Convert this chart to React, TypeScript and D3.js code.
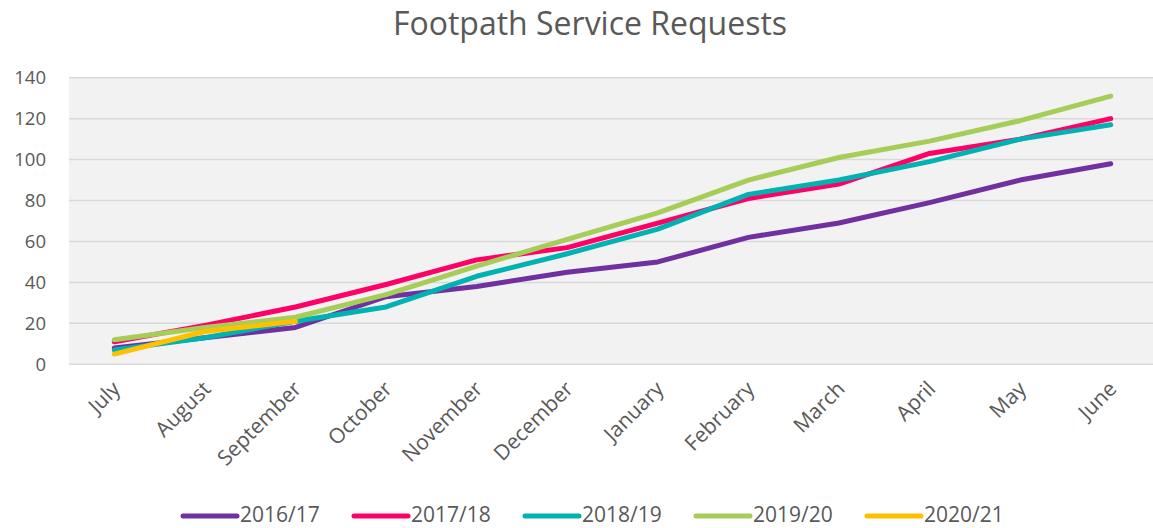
import * as d3 from "d3";
import React from "react";

const months = ["July", "August", "September", "October", "November", "December", "January", "February", "March", "April", "May", "June"];
const seriesNames = ["2016/17", "2017/18", "2018/19", "2019/20", "2020/21"];
const colors = ["#7030A0", "#FF0066", "#00B2B2", "#A6CD57", "#FFC000"];

const s1617 = [8, 13, 18, 33, 38, 45, 50, 62, 69, 79, 90, 98];
const s1718 = [11, 19, 28, 39, 51, 57, 69, 81, 88, 103, 110, 120];
const s1819 = [7, 13, 21, 28, 43, 54, 66, 83, 90, 99, 110, 117];
const s1920 = [12, 18, 23, 34, 48, 61, 74, 90, 101, 109, 119, 131];
const s2021 = [5, 16, 21];

const yTicks = [0, 20, 40, 60, 80, 100, 120, 140];

const W = 1153;
const H = 528;
const font = "'Open Sans', sans-serif";

export default function App() {
  const data = [s1617, s1718, s1819, s1920, s2021];
  const x = d3.scaleBand().domain(months).range([69, 1156]);
  const y = d3.scaleLinear().domain([0, 140]).range([364.3, 77.7]);
  const line = d3
    .line<number>()
    .x((d, i) => (x(months[i]) as number) + x.bandwidth() / 2)
    .y(d => y(d));

  return (
    <svg width={W} height={H} style={{ position: "absolute", left: 0, top: 0 }}>
      <rect width={W} height={H} fill="#fff" />
      <text x={590} y={35} textAnchor="middle" fontSize={32} fill="#595959" fontFamily={font}>
        Footpath Service Requests
      </text>
      <rect x={69} y={y(140)} width={W - 69} height={y(0) - y(140)} fill="#F2F2F2" />
      {yTicks.map(t => (
        <g key={t}>
          <line x1={69} x2={W} y1={y(t)} y2={y(t)} stroke="#D9D9D9" strokeWidth={1.5} />
          <text x={46} y={y(t)} dy="0.35em" textAnchor="end" fontSize={18.5} fill="#595959" fontFamily={font}>
            {t}
          </text>
        </g>
      ))}
      {months.map(m => {
        const cx = (x(m) as number) + x.bandwidth() / 2 + 2;
        return (
          <text
            key={m}
            transform={`translate(${cx},385) rotate(-45)`}
            textAnchor="end"
            fontSize={21}
            fill="#595959"
            fontFamily={font}
            dy="0.35em"
          >
            {m}
          </text>
        );
      })}
      {data.map((s, i) => (
        <path
          key={i}
          d={line(s) || ""}
          fill="none"
          stroke={colors[i]}
          strokeWidth={5}
          strokeLinecap="round"
          strokeLinejoin="round"
        />
      ))}
      {seriesNames.map((n, i) => {
        const lx = 183 + i * 171;
        return (
          <g key={n}>
            <line x1={lx} x2={lx + 54} y1={516} y2={516} stroke={colors[i]} strokeWidth={5} strokeLinecap="round" />
            <text x={lx + 57} y={521.5} fontSize={21} fill="#595959" fontFamily={font}>
              {n}
            </text>
          </g>
        );
      })}
    </svg>
  );
}
